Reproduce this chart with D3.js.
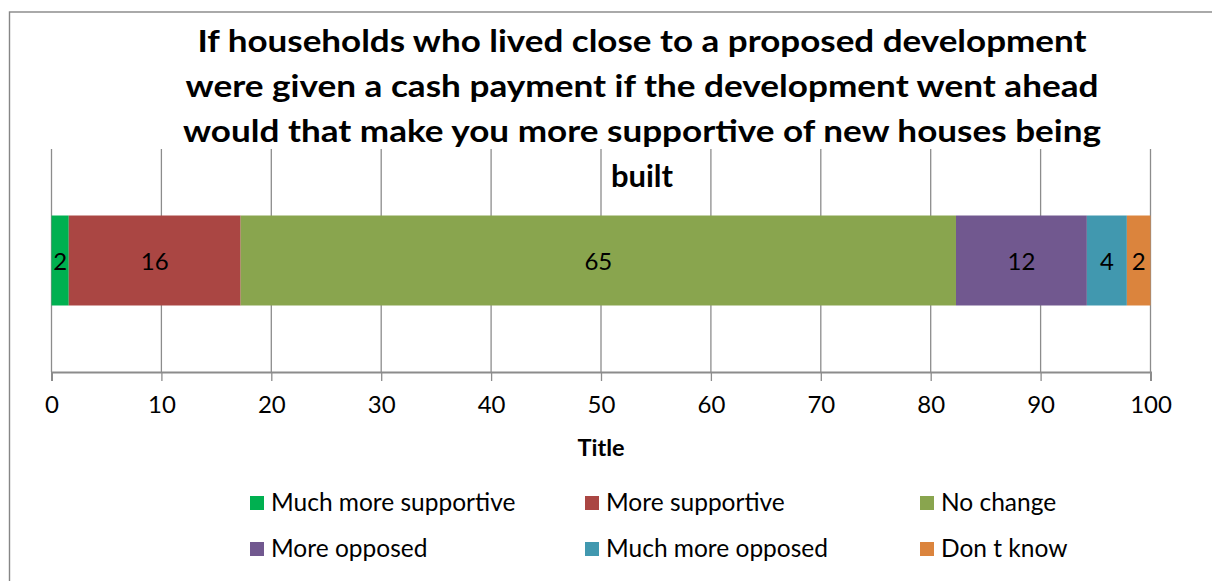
<!DOCTYPE html>
<html>
<head>
<meta charset="utf-8">
<script src="https://cdn.jsdelivr.net/npm/d3@7"></script>
<style>
  html, body { margin: 0; padding: 0; background: #fff; }
  svg { display: block; }
  text { font-family: Lato, "Open Sans", sans-serif; fill: #000; }
</style>
</head>
<body>
<svg id="chart" width="1212" height="581"></svg>
<script>
// Survey responses (percent of respondents), one stacked bar
const categories = ["Much more supportive", "More supportive", "No change",
                    "More opposed", "Much more opposed", "Don t know"];
const shares = [1.57, 15.64, 65.09, 11.91, 3.64, 2.15];
const colors = ["#00B050", "#AA4643", "#89A54E", "#71588F", "#4198AF", "#DB843D"];
const xTicks = [0, 10, 20, 30, 40, 50, 60, 70, 80, 90, 100];
const titleLines = [
  "If households who lived close to a proposed development",
  "were given a cash payment if the development went ahead",
  "would that make you more supportive of new houses being",
  "built"
];
const axisTitle = "Title";

const svg = d3.select("#chart");

// chart area frame (runs past the right and bottom edges)
svg.append("rect")
  .attr("x", 9.5).attr("y", 12).attr("width", 1220).attr("height", 600)
  .attr("fill", "#fff").attr("stroke", "#868686").attr("stroke-width", 1.4);

const plot = { left: 51.5, right: 1150.5, top: 149, bottom: 372 };

const x = d3.scaleLinear().domain([0, 100]).range([plot.left, plot.right]);
const y = d3.scaleBand().domain(["row"]).range([plot.top, plot.bottom]).paddingInner(0).paddingOuter(0.739);

// vertical gridlines
svg.append("g")
  .selectAll("line")
  .data(xTicks)
  .join("line")
  .attr("x1", d => x(d)).attr("x2", d => x(d))
  .attr("y1", plot.top).attr("y2", plot.bottom)
  .attr("stroke", "#8c8c8c").attr("stroke-width", 1.3);

// stacked segments
let acc = 0;
const segs = shares.map((v, i) => {
  const s = { name: categories[i], value: v, x0: acc, x1: acc + v, color: colors[i] };
  acc += v;
  return s;
});

const bars = svg.append("g");
bars.selectAll("rect")
  .data(segs)
  .join("rect")
  .attr("x", d => x(d.x0))
  .attr("width", d => x(d.x1) - x(d.x0))
  .attr("y", y("row"))
  .attr("height", y.bandwidth())
  .attr("fill", d => d.color);

bars.selectAll("text")
  .data(segs)
  .join("text")
  .attr("x", d => (x(d.x0) + x(d.x1)) / 2)
  .attr("y", y("row") + y.bandwidth() / 2 + 9)
  .attr("text-anchor", "middle")
  .attr("font-size", 24)
  .text(d => d3.format(".0f")(d.value));

// x axis
const axis = svg.append("g")
  .attr("transform", `translate(0,${plot.bottom})`)
  .call(d3.axisBottom(x).tickValues(xTicks).tickSize(9).tickPadding(15).tickFormat(d3.format("d")));
axis.select(".domain").attr("stroke", "#8c8c8c").attr("stroke-width", 2);
axis.selectAll(".tick line").attr("stroke", "#8c8c8c").attr("stroke-width", 1.3);
axis.selectAll(".tick text")
  .attr("font-family", "Lato, 'Open Sans', sans-serif")
  .attr("font-size", 24).attr("fill", "#000");

svg.append("text")
  .attr("x", 601).attr("y", 456)
  .attr("text-anchor", "middle")
  .attr("font-size", 23.5).attr("font-weight", "bold")
  .text(axisTitle);

// chart title
const titleWidths = [889, 913, 918, null];
svg.append("g")
  .selectAll("text")
  .data(titleLines)
  .join("text")
  .attr("x", 642)
  .attr("y", (d, i) => 52 + i * 45)
  .attr("text-anchor", "middle")
  .attr("font-size", 31).attr("font-weight", "bold")
  .each(function(d, i) {
    if (titleWidths[i]) d3.select(this).attr("textLength", titleWidths[i]).attr("lengthAdjust", "spacingAndGlyphs");
  })
  .text(d => d);

// legend, three columns by two rows
const legend = svg.append("g")
  .selectAll("g")
  .data(categories)
  .join("g")
  .attr("transform", (d, i) => `translate(${250 + (i % 3) * 335},${503 + Math.floor(i / 3) * 46})`);
legend.append("rect")
  .attr("x", 0).attr("y", -7).attr("width", 14).attr("height", 14)
  .attr("fill", (d, i) => colors[i]);
legend.append("text")
  .attr("x", 21).attr("y", 8)
  .attr("font-size", 24.5)
  .text(d => d);
</script>
</body>
</html>
